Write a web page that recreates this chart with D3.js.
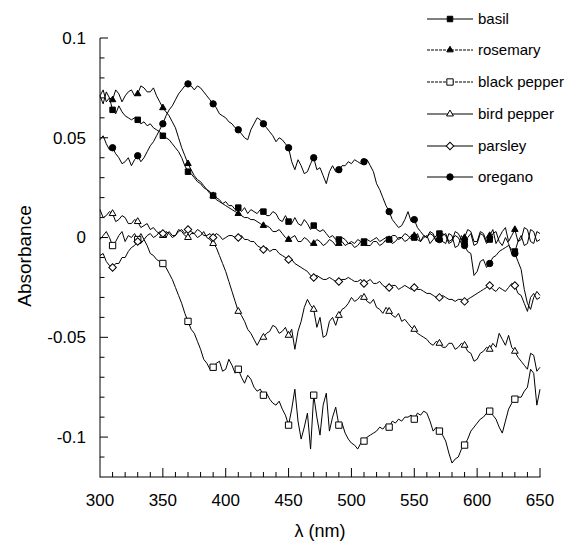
<!DOCTYPE html>
<html>
<head>
<meta charset="utf-8">
<script src="https://cdn.jsdelivr.net/npm/d3@7"></script>
<style>
  body { margin: 0; background: #fff; }
  svg { display: block; font-family: "Liberation Sans", Arial, Helvetica, sans-serif; }
</style>
</head>
<body>
<svg id="chart" width="569" height="548"></svg>
<script>
// ---- data ----
const wavelengths = d3.range(300, 650.1, 2.5);
const seriesNames = ["basil", "rosemary", "black pepper", "bird pepper", "parsley", "oregano"];
const xTicks = [300, 350, 400, 450, 500, 550, 600, 650];
const yTicks = [0.1, 0.05, 0, -0.05, -0.1];
const yTickLabels = ["0.1", "0.05", "0", "-0.05", "-0.1"];
const markerWavelengths = [310, 330, 350, 370, 390, 410, 430, 450, 470, 490, 510, 530, 550, 570, 590, 610, 630];

const basil = [
  .071,.074,.068,.070,.064,.062,.066,.063,.061,.060,
  .059,.060,.059,.057,.058,.056,.057,.055,.054,.053,
  .051,.050,.049,.047,.045,.043,.040,.036,.033,.032,
  .030,.028,.027,.025,.024,.023,.021,.020,.019,.017,
  .018,.016,.016,.014,.015,.013,.015,.012,.014,.013,
  .012,.014,.013,.011,.011,.013,.012,.009,.008,.011,
  .008,.007,.010,.007,.006,.009,.007,.004,.006,.004,
  .003,.004,.002,.000,.001,-.001,-.001,.000,-.001,-.003,
  -.002,-.003,-.001,-.002,-.002,-.001,-.002,-.001,.000,-.002,
  -.001,.000,-.001,.001,.001,-.001,.000,.002,.001,-.001,
  .000,.002,-.002,.000,.001,-.003,-.001,.001,.002,-.002,
  -.003,.002,.001,-.005,-.004,.001,-.002,.000,.002,-.004,
  -.003,.002,.001,-.003,-.001,.002,.003,-.002,-.004,.000,
  -.003,-.008,-.007,-.002,.001,-.004,-.003,.004,.003,-.002,
  -.001];
const rosemary = [
  .071,.067,.073,.070,.069,.074,.072,.068,.071,.073,
  .074,.071,.072,.076,.075,.073,.073,.075,.071,.068,
  .065,.063,.061,.058,.055,.050,.045,.041,.037,.034,
  .031,.029,.028,.026,.024,.022,.021,.019,.018,.017,
  .016,.015,.014,.013,.012,.011,.010,.010,.009,.009,
  .008,.007,.006,.006,.005,.003,.003,.004,.002,.000,
  -.001,.000,.001,-.002,-.002,.000,-.001,-.003,-.003,-.001,
  -.002,-.004,-.003,-.001,-.002,-.004,-.003,-.002,-.004,-.003,
  -.003,-.005,-.004,-.002,-.003,-.004,-.004,-.002,-.002,-.004,
  -.003,-.001,-.001,-.003,-.002,.000,.000,-.002,-.001,.001,
  .001,-.001,-.002,.001,.000,.003,.002,-.002,-.001,.002,
  .001,-.003,-.002,.003,.002,-.001,.000,.004,.003,-.002,
  -.002,.003,.002,-.002,.001,.004,-.003,.000,.003,.005,
  -.002,.001,.004,-.002,-.001,.005,.004,-.002,-.003,.003,
  .002];
const blackPepper = [
  -.001,.001,.003,.000,-.004,-.002,.001,.003,-.002,.001,
  .000,.002,-.001,.002,-.001,-.004,-.008,-.009,-.011,-.012,
  -.013,-.015,-.018,-.021,-.025,-.029,-.033,-.038,-.042,-.046,
  -.048,-.052,-.056,-.061,-.063,-.066,-.065,-.063,-.062,-.067,
  -.066,-.061,-.064,-.068,-.066,-.070,-.073,-.069,-.071,-.075,
  -.077,-.076,-.079,-.078,-.081,-.083,-.084,-.082,-.086,-.089,
  -.094,-.086,-.076,-.092,-.101,-.095,-.088,-.106,-.079,-.090,
  -.099,-.084,-.078,-.097,-.090,-.085,-.094,-.093,-.098,-.101,
  -.103,-.104,-.106,-.103,-.102,-.100,-.099,-.098,-.097,-.095,
  -.096,-.094,-.095,-.092,-.093,-.091,-.092,-.090,-.090,-.089,
  -.091,-.088,-.089,-.087,-.088,-.092,-.097,-.095,-.097,-.099,
  -.102,-.108,-.113,-.111,-.110,-.106,-.104,-.101,-.097,-.095,
  -.093,-.091,-.090,-.088,-.087,-.089,-.091,-.095,-.098,-.092,
  -.086,-.083,-.081,-.080,-.080,-.077,-.075,-.066,-.068,-.084,
  -.076];
const birdPepper = [
  .014,.010,.011,.013,.012,.008,.009,.011,.010,.007,
  .007,.009,.008,.005,.006,.007,.004,.005,.003,.002,
  .001,.003,.002,.000,.001,.004,.003,.001,.000,.002,
  .002,.000,.001,.003,.000,-.001,-.003,-.005,-.009,-.013,
  -.017,-.022,-.027,-.032,-.037,-.039,-.042,-.046,-.048,-.051,
  -.054,-.051,-.050,-.048,-.047,-.044,-.045,-.048,-.047,-.045,
  -.049,-.046,-.056,-.047,-.042,-.035,-.031,-.034,-.036,-.045,
  -.040,-.050,-.049,-.042,-.040,-.044,-.039,-.036,-.035,-.033,
  -.030,-.032,-.031,-.029,-.030,-.032,-.033,-.031,-.035,-.036,
  -.038,-.035,-.037,-.039,-.040,-.038,-.042,-.041,-.043,-.045,
  -.046,-.048,-.049,-.050,-.051,-.053,-.054,-.052,-.053,-.055,
  -.055,-.053,-.053,-.056,-.055,-.053,-.054,-.057,-.058,-.062,
  -.061,-.058,-.057,-.055,-.056,-.053,-.055,-.048,-.051,-.054,
  -.049,-.055,-.057,-.060,-.062,-.064,-.066,-.058,-.059,-.067,
  -.065];
const parsley = [
  -.009,-.008,-.012,-.014,-.015,-.013,-.013,-.010,-.010,-.007,
  -.005,-.004,-.002,-.003,-.001,.001,.002,.000,.001,.003,
  .002,.000,.003,.001,.001,.003,.004,.002,.004,.003,
  .002,.004,.003,.001,.001,.002,.000,.002,.001,-.001,
  .000,.001,.001,.000,.000,.001,-.001,-.001,-.002,-.002,
  -.004,-.005,-.006,-.005,-.007,-.006,-.006,-.008,-.009,-.010,
  -.011,-.011,-.013,-.014,-.015,-.016,-.017,-.019,-.020,-.019,
  -.020,-.021,-.021,-.020,-.021,-.022,-.022,-.021,-.021,-.020,
  -.021,-.022,-.022,-.021,-.023,-.022,-.021,-.023,-.023,-.022,
  -.024,-.025,-.025,-.024,-.024,-.026,-.025,-.024,-.025,-.026,
  -.025,-.026,-.026,-.027,-.028,-.028,-.029,-.030,-.030,-.029,
  -.030,-.031,-.031,-.032,-.031,-.031,-.032,-.031,-.030,-.029,
  -.028,-.027,-.026,-.025,-.024,-.026,-.027,-.025,-.026,-.027,
  -.025,-.023,-.024,-.028,-.029,-.033,-.037,-.030,-.028,-.031,
  -.030];
const oregano = [
  .049,.051,.047,.044,.045,.042,.040,.037,.038,.040,
  .036,.039,.041,.038,.040,.043,.046,.048,.051,.054,
  .057,.061,.064,.066,.069,.072,.074,.076,.077,.076,
  .074,.076,.075,.073,.071,.069,.067,.065,.062,.061,
  .060,.058,.057,.055,.054,.052,.050,.049,.054,.057,
  .060,.059,.057,.055,.053,.051,.048,.050,.049,.047,
  .045,.038,.034,.039,.036,.032,.033,.037,.040,.034,
  .035,.031,.027,.033,.036,.033,.034,.036,.036,.038,
  .037,.039,.038,.037,.038,.039,.036,.033,.027,.024,
  .020,.016,.013,.009,.007,.005,.006,.009,.013,.008,
  .009,.005,.003,.001,.000,.002,.001,-.002,-.001,.001,
  .002,-.002,-.001,.001,.000,-.003,-.004,-.007,-.008,-.019,
  -.017,-.012,-.011,-.015,-.013,-.010,-.009,-.007,-.006,-.005,
  -.004,-.006,-.008,-.012,-.016,-.026,-.033,-.036,-.030,-.027,
  -.029];

const seriesValues = [basil, rosemary, blackPepper, birdPepper, parsley, oregano];

// ---- styles ----
const markerStyle = [
  { type: d3.symbolSquare, size: 30, fill: "#000", rot: 0 },
  { type: d3.symbolTriangle, size: 18, fill: "#000", rot: 0 },
  { type: d3.symbolSquare, size: 40, fill: "#fff", rot: 0 },
  { type: d3.symbolTriangle, size: 20, fill: "#fff", rot: 0 },
  { type: d3.symbolSquare, size: 28, fill: "#fff", rot: 45 },
  { type: d3.symbolCircle, size: 32, fill: "#000", rot: 0 }
];

const svg = d3.select("#chart");
const x = d3.scaleLinear().domain([300, 650]).range([100, 540]);
const y = d3.scaleLinear().domain([-0.12, 0.1]).range([477, 38]);

// axes
const gx = svg.append("g").attr("transform", "translate(0,477)");
gx.append("line").attr("x1", 100).attr("x2", 540.5).attr("stroke", "#000");
gx.selectAll(".minor").data(d3.range(310, 651, 10).filter(v => v % 50 !== 0)).join("line")
  .attr("x1", d => x(d)).attr("x2", d => x(d)).attr("y1", 0).attr("y2", -5).attr("stroke", "#000");
gx.selectAll(".major").data(xTicks.slice(1)).join("line")
  .attr("x1", d => x(d)).attr("x2", d => x(d)).attr("y1", 0).attr("y2", -9).attr("stroke", "#000");
gx.selectAll("text").data(xTicks).join("text")
  .attr("x", d => x(d)).attr("y", 29).attr("text-anchor", "middle")
  .attr("font-size", 17).text(d => d);

const gy = svg.append("g").attr("transform", "translate(100,0)");
gy.append("line").attr("y1", 38).attr("y2", 477.5).attr("stroke", "#000");
gy.selectAll(".minor").data(d3.range(-11, 10).map(v => v / 100).filter(v => Math.round(v * 100) % 5 !== 0)).join("line")
  .attr("y1", d => y(d)).attr("y2", d => y(d)).attr("x1", 0).attr("x2", 4.5).attr("stroke", "#000");
gy.selectAll(".major").data(yTicks).join("line")
  .attr("y1", d => y(d)).attr("y2", d => y(d)).attr("x1", 0).attr("x2", 8).attr("stroke", "#000");
gy.selectAll("text").data(yTicks).join("text")
  .attr("x", -14).attr("y", d => y(d)).attr("dy", "0.35em").attr("text-anchor", "end")
  .attr("font-size", 17).text((d, i) => yTickLabels[i]);

svg.append("text").attr("transform", "translate(31,256) rotate(-90)")
  .attr("text-anchor", "middle").attr("font-size", 19).text("Absorbance");
svg.append("text").attr("x", 320).attr("y", 537)
  .attr("text-anchor", "middle").attr("font-size", 18).text("λ (nm)");

// series
const line = d3.line().x(d => x(d[0])).y(d => y(d[1]));
seriesValues.forEach((vals, i) => {
  const pts = wavelengths.map((w, j) => [w, vals[j]]);
  svg.append("path").datum(pts).attr("d", line)
    .attr("fill", "none").attr("stroke", "#000").attr("stroke-width", 1);
  const ms = markerStyle[i];
  const sym = d3.symbol().type(ms.type).size(ms.size);
  svg.selectAll(null).data(pts.filter(p => markerWavelengths.includes(p[0]))).join("path")
    .attr("d", sym)
    .attr("transform", d => `translate(${x(d[0])},${y(d[1])}) rotate(${ms.rot})`)
    .attr("fill", ms.fill).attr("stroke", "#000").attr("stroke-width", 1);
});

// legend
const legendY = [19, 50, 82, 114, 146, 177];
const lg = svg.append("g");
seriesNames.forEach((name, i) => {
  const ly = legendY[i];
  lg.append("line").attr("x1", 427).attr("x2", 473).attr("y1", ly).attr("y2", ly)
    .attr("stroke", "#000").attr("stroke-width", 1)
    .attr("stroke-dasharray", (i === 1 || i === 2) ? "3,1" : null);
  const ms = markerStyle[i];
  lg.append("path").attr("d", d3.symbol().type(ms.type).size(ms.size)())
    .attr("transform", `translate(450,${ly}) rotate(${ms.rot})`)
    .attr("fill", ms.fill).attr("stroke", "#000").attr("stroke-width", 1);
  lg.append("text").attr("x", 478).attr("y", ly).attr("dy", "0.35em")
    .attr("font-size", 15).text(name);
});
</script>
</body>
</html>
